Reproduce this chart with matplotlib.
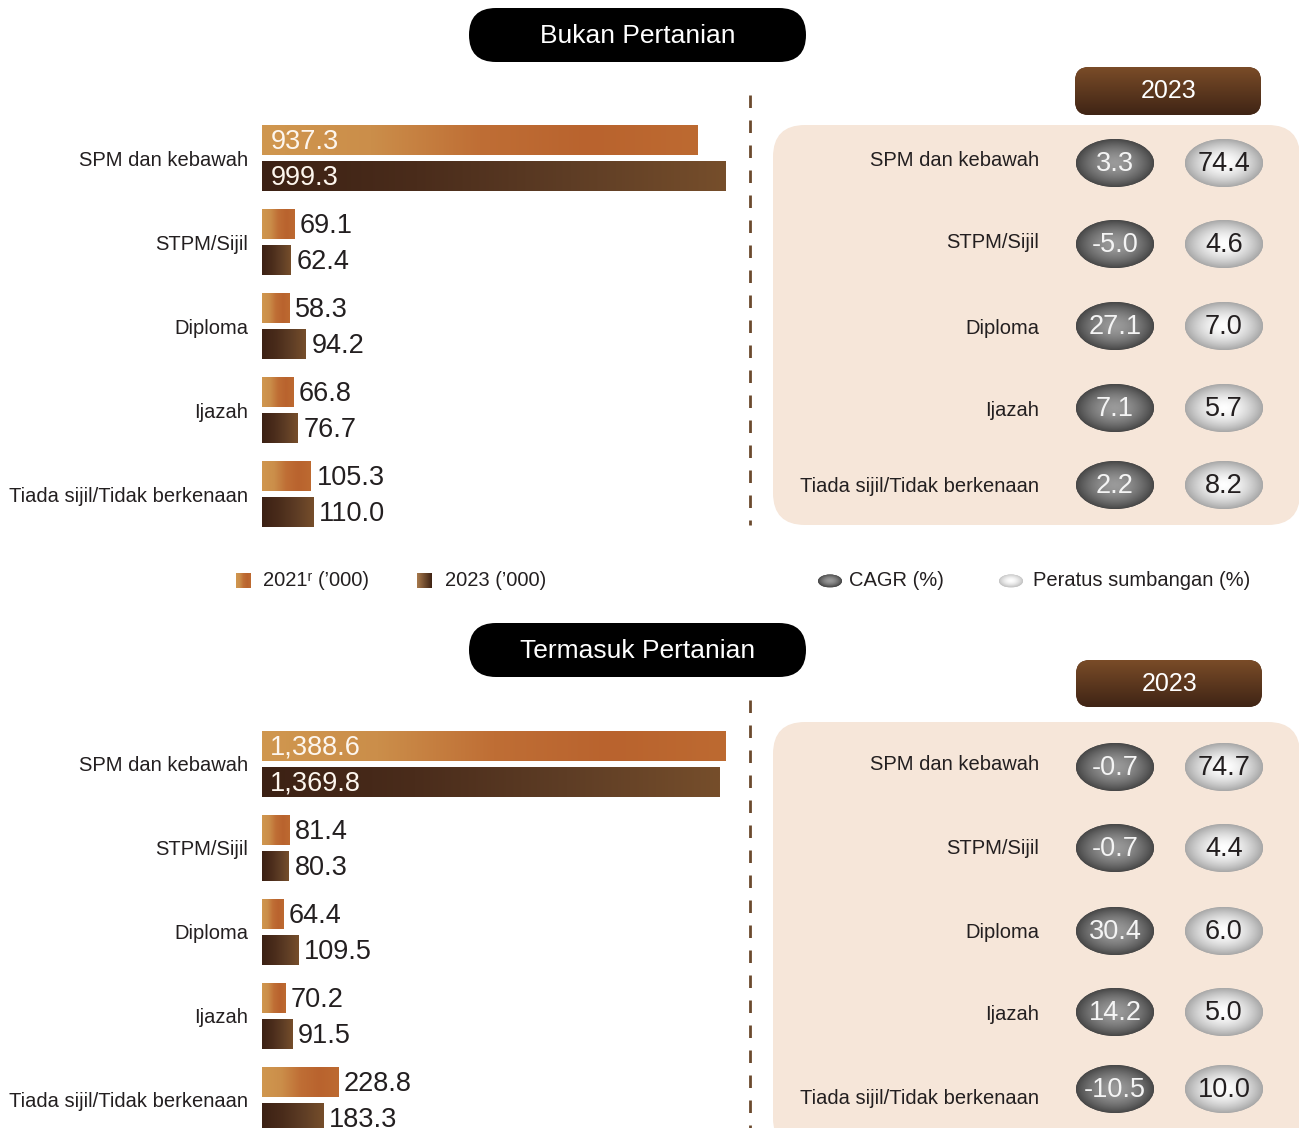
import matplotlib
matplotlib.use("Agg")
import matplotlib.pyplot as plt
import numpy as np
from matplotlib.colors import LinearSegmentedColormap, to_rgb
from matplotlib.patches import FancyBboxPatch, Ellipse

W, H = 1299, 1128

CATEGORIES = ["SPM dan kebawah", "STPM/Sijil", "Diploma", "Ijazah",
              "Tiada sijil/Tidak berkenaan"]

# Bukan Pertanian
NP_2021 = [937.3, 69.1, 58.3, 66.8, 105.3]
NP_2023 = [999.3, 62.4, 94.2, 76.7, 110.0]
NP_CAGR = [3.3, -5.0, 27.1, 7.1, 2.2]
NP_SHARE = [74.4, 4.6, 7.0, 5.7, 8.2]

# Termasuk Pertanian
TP_2021 = [1388.6, 81.4, 64.4, 70.2, 228.8]
TP_2023 = [1369.8, 80.3, 109.5, 91.5, 183.3]
TP_CAGR = [-0.7, -0.7, 30.4, 14.2, -10.5]
TP_SHARE = [74.7, 4.4, 6.0, 5.0, 10.0]

# ---------------------------------------------------------------- style
INK = "#231f20"
BEIGE = "#f6e6d9"
DASH = "#6b4a2e"
CM_2021 = LinearSegmentedColormap.from_list(
    "c21", ["#d0974f", "#cb8e4a", "#bf6e35", "#b9632e", "#bd6a31"])
CM_2023 = LinearSegmentedColormap.from_list(
    "c23", ["#3c2114", "#4a2c1b", "#5e3d25", "#764e2b"])
CM_2023_LEG = LinearSegmentedColormap.from_list("c23l", ["#a87a4c", "#3e2213"])
CM_PILL = LinearSegmentedColormap.from_list("pill", ["#7a4c28", "#3f2415"])
DARK_IN, DARK_OUT = "#9a9a9a", "#474747"
LIGHT_IN, LIGHT_OUT = "#ffffff", "#a8a8a8"
LABEL_FS = 14.5
VALUE_FS = 19.5

plt.rcParams.update({
    "font.family": ["Liberation Sans", "DejaVu Sans"],
    "text.color": INK,
})


def grad_fill(ax, patch, cmap, extent, vertical=False, z=None):
    arr = np.linspace(0, 1, 256)
    arr = arr.reshape(-1, 1) if vertical else arr.reshape(1, -1)
    im = ax.imshow(arr, cmap=cmap, extent=extent, aspect="auto",
                   interpolation="bilinear",
                   zorder=(patch.get_zorder() + 0.1) if z is None else z)
    im.set_clip_path(patch)
    return im


def radial_ellipse(ax, cx, cy, w, h, c_in, c_out, z=4):
    e = Ellipse((cx, cy), w, h, facecolor=c_out, edgecolor="none", zorder=z)
    ax.add_patch(e)
    xs = np.linspace(-1, 1, 120)
    X, Y = np.meshgrid(xs, xs)
    t = np.clip(np.sqrt(X ** 2 + Y ** 2), 0, 1) ** 1.7
    img = ((1 - t)[..., None] * np.array(to_rgb(c_in))
           + t[..., None] * np.array(to_rgb(c_out)))
    im = ax.imshow(img, extent=(cx - w / 2, cx + w / 2, cy + h / 2, cy - h / 2),
                   aspect="auto", interpolation="bilinear", zorder=z + 0.1)
    im.set_clip_path(e)


def pill(ax, x0, y0, x1, y1, r, color=None, cmap=None):
    p = FancyBboxPatch((x0, y0), x1 - x0, y1 - y0,
                       boxstyle=f"round,pad=0,rounding_size={r}",
                       facecolor=color if color else "#5a3520",
                       edgecolor="none", zorder=3)
    ax.add_patch(p)
    if cmap is not None:
        grad_fill(ax, p, cmap, (x0, x1, y1, y0), vertical=True)
    return p


def bar_panel(fig, top_px, v21, v23):
    slot = 84
    ax = fig.add_axes([262 / W, 1 - (top_px + 5 * slot) / H,
                       464 / W, 5 * slot / H])
    ax.patch.set_alpha(0)
    y = np.arange(len(CATEGORIES))
    off, bh = 18 / slot, 30 / slot
    vmax = max(max(v21), max(v23))
    for vals, dy, cmap in ((v21, -off, CM_2021), (v23, off, CM_2023)):
        bars = ax.barh(y + dy, vals, height=bh, color=cmap(0.5), zorder=2)
        for rect, v in zip(bars, vals):
            x0, y0 = rect.get_x(), rect.get_y()
            grad_fill(ax, rect, cmap,
                      (x0, x0 + rect.get_width(), y0, y0 + rect.get_height()))
            yc = y0 + rect.get_height() / 2
            if v > vmax / 2:
                ax.annotate(f"{v:,.1f}", (0, yc), xytext=(6, -1.5),
                            textcoords="offset points", va="center",
                            ha="left", fontsize=VALUE_FS, color="#fdf6ee",
                            zorder=5)
            else:
                ax.annotate(f"{v:,.1f}", (v, yc), xytext=(4, -1.5),
                            textcoords="offset points", va="center",
                            ha="left", fontsize=VALUE_FS, color=INK, zorder=5)
    ax.set_xlim(0, vmax)
    ax.set_ylim(len(CATEGORIES) - 0.5, -0.5)
    ax.set_yticks(y)
    ax.set_yticklabels(CATEGORIES, fontsize=LABEL_FS, color=INK)
    ax.tick_params(axis="y", length=0, pad=10)
    ax.set_xticks([])
    for s in ax.spines.values():
        s.set_visible(False)
    return ax


def right_panel(ov, box_top, box_bot, row_y, label_y, cagr, share):
    pill(ov, 773, box_top, 1300, box_bot, 32, color=BEIGE)
    for lab, ly, ey, c, s in zip(CATEGORIES, label_y, row_y, cagr, share):
        ov.text(1039, ly + 2, lab, ha="right", va="center", fontsize=LABEL_FS,
                color=INK)
        radial_ellipse(ov, 1115, ey, 78, 48, DARK_IN, DARK_OUT)
        ov.text(1115, ey + 1, f"{c:.1f}", ha="center", va="center",
                fontsize=VALUE_FS, color="#f4f4f4", zorder=6)
        radial_ellipse(ov, 1224, ey, 78, 48, LIGHT_IN, LIGHT_OUT)
        ov.text(1224, ey + 1, f"{s:.1f}", ha="center", va="center",
                fontsize=VALUE_FS, color=INK, zorder=6)


fig = plt.figure(figsize=(W / 100, H / 100), dpi=100)
ov = fig.add_axes([0, 0, 1, 1])
ov.axis("off")

# ---------------------------------------------------------------- top panel
pill(ov, 469, 8, 806, 62, 27, color="#000000")
ov.text(638, 36, "Bukan Pertanian", ha="center", va="center",
        fontsize=19, color="white", zorder=6)
pill(ov, 1075, 67, 1261, 115, 14, cmap=CM_PILL)
ov.text(1169, 91, "2023", ha="center", va="center", fontsize=18,
        color="white", zorder=6)
ov.plot([750, 750], [95, 525], color=DASH, lw=2, dashes=(4.5, 4.5), zorder=2)
right_panel(ov, 125, 525, [163, 244, 326, 408, 485],
            [158, 241, 326, 408, 484], NP_CAGR, NP_SHARE)

# ---------------------------------------------------------------- legend
for x0, cmap in ((236, CM_2021), (417, CM_2023_LEG)):
    sq = FancyBboxPatch((x0, 573), 15, 15, boxstyle="square,pad=0",
                        facecolor=cmap(0.5), edgecolor="none", zorder=3)
    ov.add_patch(sq)
    grad_fill(ov, sq, cmap, (x0, x0 + 15, 588, 573))
ov.text(263, 581, "2021ʳ (’000)", ha="left", va="center", fontsize=LABEL_FS)
ov.text(445, 581, "2023 (’000)", ha="left", va="center", fontsize=LABEL_FS)
radial_ellipse(ov, 830, 581, 24, 13, DARK_IN, DARK_OUT)
ov.text(849, 581, "CAGR (%)", ha="left", va="center", fontsize=LABEL_FS)
radial_ellipse(ov, 1011, 581, 24, 13, LIGHT_IN, "#c4c4c4")
ov.text(1033, 581, "Peratus sumbangan (%)", ha="left", va="center",
        fontsize=LABEL_FS)

# ---------------------------------------------------------------- bottom panel
pill(ov, 469, 623, 806, 677, 27, color="#000000")
ov.text(638, 651, "Termasuk Pertanian", ha="center", va="center",
        fontsize=19, color="white", zorder=6)
pill(ov, 1076, 660, 1262, 707, 14, cmap=CM_PILL)
ov.text(1170, 684, "2023", ha="center", va="center", fontsize=18,
        color="white", zorder=6)
ov.plot([750, 750], [700, 1128], color=DASH, lw=2, dashes=(4.5, 4.5), zorder=2)
right_panel(ov, 722, 1150, [767, 848, 931, 1012, 1089],
            [763, 846, 930, 1013, 1096], TP_CAGR, TP_SHARE)

ov.set_xlim(0, W)
ov.set_ylim(H, 0)

bar_panel(fig, 116, NP_2021, NP_2023)
bar_panel(fig, 721.5, TP_2021, TP_2023)

fig.savefig("out.png", dpi=100, facecolor="white")
